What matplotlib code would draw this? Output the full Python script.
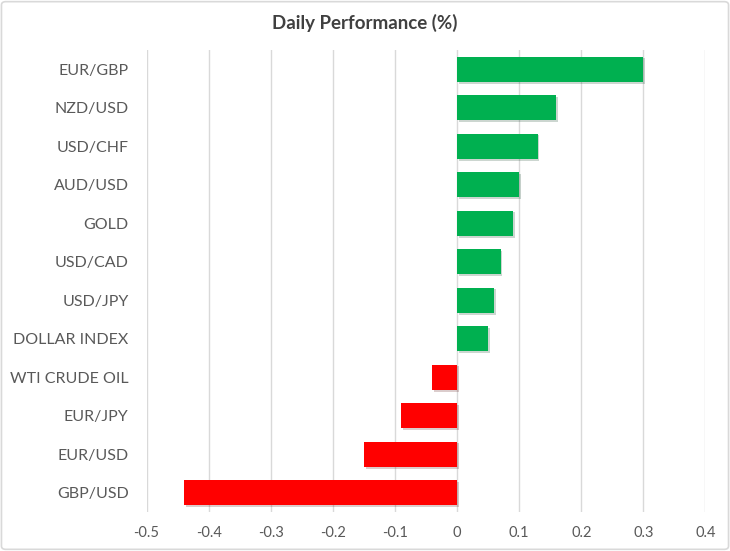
import matplotlib
matplotlib.use("Agg")
import matplotlib.pyplot as plt
import matplotlib.patheffects as pe
from matplotlib.patches import FancyBboxPatch

categories = ["EUR/GBP", "NZD/USD", "USD/CHF", "AUD/USD", "GOLD", "USD/CAD",
              "USD/JPY", "DOLLAR INDEX", "WTI CRUDE OIL", "EUR/JPY", "EUR/USD", "GBP/USD"]
values = [0.30, 0.16, 0.13, 0.10, 0.09, 0.07, 0.06, 0.05, -0.04, -0.09, -0.15, -0.44]
ticks = [-0.5, -0.4, -0.3, -0.2, -0.1, 0, 0.1, 0.2, 0.3, 0.4]
tick_labels = ["-0.5", "-0.4", "-0.3", "-0.2", "-0.1", "0", "0.1", "0.2", "0.3", "0.4"]

plt.rcParams['font.family'] = ['Lato', 'DejaVu Sans']
text_col = "#595959"

fig = plt.figure(figsize=(7.3, 5.51), dpi=100)
ax = fig.add_axes([0.2008, 0.0708, 0.7656, 0.8385])

colors = ["#00B050" if v >= 0 else "#FF0000" for v in values]
y = list(range(len(categories)))
bars = ax.barh(y, values, height=0.66, color=colors, zorder=3)
for b in bars:
    b.set_path_effects([pe.SimplePatchShadow(offset=(1.2, -1.2), alpha=0.2), pe.Normal()])

ax.set_ylim(len(categories) - 0.5, -0.5)
ax.set_xlim(-0.5, 0.4)
ax.set_yticks(y)
ax.set_yticklabels(categories, fontsize=11.5, color=text_col)
ax.set_xticks(ticks)
ax.set_xticklabels(tick_labels, fontsize=10.5, color=text_col)
ax.tick_params(axis='both', length=0)
ax.tick_params(axis='y', pad=13)
ax.tick_params(axis='x', pad=10)
ax.grid(axis='x', color="#D9D9D9", linewidth=1, zorder=0)
for s in ax.spines.values():
    s.set_visible(False)

fig.text(0.5, 0.958, "Daily Performance (%)", ha='center', va='center',
         fontsize=13.5, fontweight='bold', color="#404040")

border = FancyBboxPatch((0.002, 0.003), 0.996, 0.994, boxstyle="round,pad=0,rounding_size=0.006",
                        transform=fig.transFigure, fill=False, edgecolor="#D9D9D9", linewidth=1.2)
fig.patches.append(border)

fig.savefig("out.png", dpi=100)
